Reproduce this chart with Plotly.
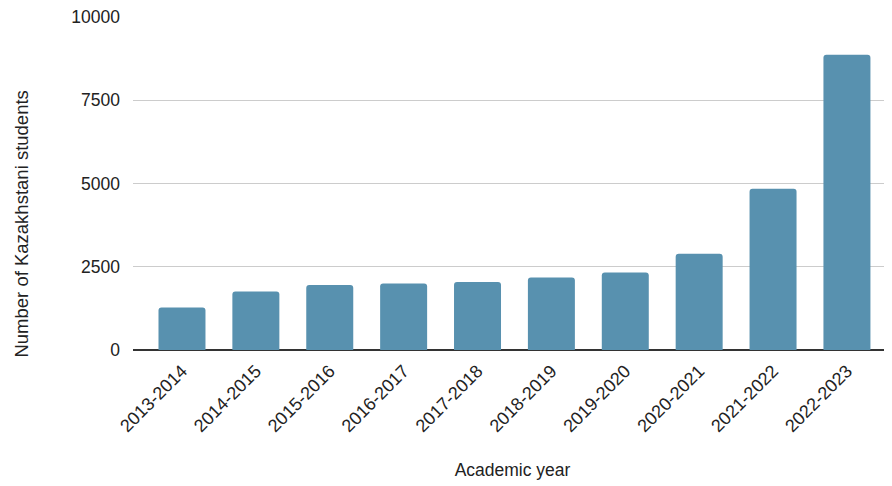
import plotly.graph_objects as go

years = ["2013-2014", "2014-2015", "2015-2016", "2016-2017", "2017-2018",
         "2018-2019", "2019-2020", "2020-2021", "2021-2022", "2022-2023"]
students = [1280, 1760, 1950, 2000, 2040, 2180, 2330, 2890, 4840, 8870]
y_ticks = [0, 2500, 5000, 7500, 10000]

font_family = "Liberation Sans, Arial, sans-serif"

fig = go.Figure(go.Bar(
    x=list(range(len(years))), y=students,
    marker=dict(color="#5891AF", cornerradius=3, line=dict(width=0)),
    width=0.636,
))

fig.update_layout(
    width=884, height=478,
    margin=dict(l=125, r=0, t=9, b=136),
    paper_bgcolor="white", plot_bgcolor="white",
    showlegend=False,
    font=dict(family=font_family, size=17, color="#222"),
    xaxis=dict(
        tickmode="array", tickvals=list(range(len(years))), ticktext=years,
        tickangle=-45, range=[-0.663, 9.61],
        showgrid=False, zeroline=False, showline=False,
        ticklabelstandoff=6,
        title=dict(text="Academic year", standoff=28, font=dict(size=17.5)),
        tickfont=dict(size=18),
        automargin=False,
    ),
    yaxis=dict(
        range=[0, 10000], tickvals=y_ticks, ticktext=[str(v) for v in y_ticks],
        showgrid=True, gridcolor="#cccccc", gridwidth=1,
        zeroline=True, zerolinecolor="#333333", zerolinewidth=1.5,
        showline=False, ticks="", ticklabelstandoff=12,
        ticklabeloverflow="allow",
        tickfont=dict(size=17.5),
        automargin=False,
    ),
    annotations=[dict(
        text="Number of Kazakhstani students", textangle=-90,
        xref="paper", yref="paper", x=-0.147, y=0.378,
        xanchor="center", yanchor="middle", showarrow=False,
        font=dict(size=18.5, color="#222"),
    )],
)

fig.write_html("out.html")
